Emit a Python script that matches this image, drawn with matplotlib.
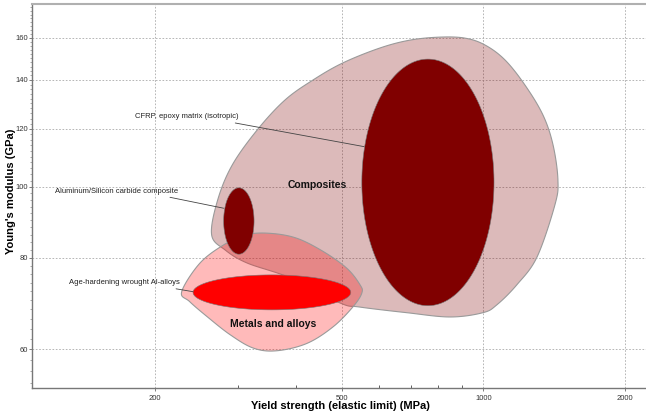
import numpy as np
import matplotlib
matplotlib.use("Agg")
import matplotlib.pyplot as plt
from matplotlib.ticker import FixedLocator, NullFormatter

plt.rcParams['font.family'] = ['Liberation Sans', 'DejaVu Sans']

# =========================
# DATA  (yield strength in MPa, Young's modulus in GPa)
# =========================
# family envelopes, outline points going clockwise from the left
composites_x = [264, 272, 292, 330, 378, 434, 502, 602, 698, 808, 913, 1007, 1111,
                1225, 1338, 1406, 1440, 1419, 1300, 1178, 1068, 997, 849, 687, 546,
                495, 388, 314, 282]
composites_y = [86.0, 96.0, 107.1, 119.6, 131.4, 140.0, 147.7, 154.8, 158.7, 160.2,
                159.7, 156.3, 149.1, 137.8, 125.4, 114.1, 102.2, 94.5, 80.2, 73.5,
                69.0, 67.3, 66.4, 67.3, 68.5, 69.4, 75.1, 78.7, 82.0]

metals_x = [228, 249, 280, 313, 351, 400, 456, 512, 546, 551, 528, 479, 421, 363,
            324, 289, 258, 237]
metals_y = [71.9, 78.6, 83.3, 86.0, 86.4, 85.1, 81.6, 77.4, 73.5, 71.6, 68.6, 64.4,
            61.1, 59.7, 60.2, 62.8, 66.5, 69.7]

# individual materials: property ranges
materials = ["CFRP, epoxy matrix (isotropic)",
             "Aluminum/Silicon carbide composite",
             "Age-hardening wrought Al-alloys"]
strength_lo = [551, 280, 241]
strength_hi = [1053, 325, 522]
modulus_lo = [68.8, 80.9, 67.9]
modulus_hi = [149.5, 99.7, 75.8]

x_ticks = [200, 500, 1000, 2000]
y_ticks = [60, 80, 100, 120, 140, 160]

# =========================
# STYLE
# =========================
bubble_colors = ["#800000", "#800000", "#ff0000"]
label_pos = [(234, 124.7), (166, 98.7), (172, 74.0)]
leader_end = [(557, 113.5), (280, 93.5), (241, 71.9)]


def smooth_closed(xs, ys, steps=20):
    # closed Catmull-Rom curve through the outline, worked in log space
    p = np.column_stack([np.log10(xs), np.log10(ys)])
    n = len(p)
    t = np.linspace(0, 1, steps, endpoint=False)[:, None]
    out = []
    for i in range(n):
        p0, p1, p2, p3 = p[i - 1], p[i], p[(i + 1) % n], p[(i + 2) % n]
        seg = 0.5 * (2 * p1 + (-p0 + p2) * t
                     + (2 * p0 - 5 * p1 + 4 * p2 - p3) * t ** 2
                     + (-p0 + 3 * p1 - 3 * p2 + p3) * t ** 3)
        out.append(seg)
    out = np.vstack(out)
    return 10 ** out[:, 0], 10 ** out[:, 1]


def log_ellipse(x0, x1, y0, y1, n=200):
    # ellipse spanning the given ranges on log axes
    lx = np.log10([x0, x1])
    ly = np.log10([y0, y1])
    t = np.linspace(0, 2 * np.pi, n)
    ex = lx.mean() + (lx[1] - lx[0]) / 2 * np.cos(t)
    ey = ly.mean() + (ly[1] - ly[0]) / 2 * np.sin(t)
    return 10 ** ex, 10 ** ey


fig = plt.figure(figsize=(6.46, 4.19), dpi=100)
ax = fig.add_axes([32 / 646, 31 / 419, 614 / 646, 384 / 419])
ax.set_xscale("log")
ax.set_yscale("log")
ax.set_xlim(109.5, 2217)
ax.set_ylim(53.1, 177.8)

# envelopes
cx, cy = smooth_closed(composites_x, composites_y)
ax.fill(cx, cy, facecolor=(0.5, 0, 0, 0.27), edgecolor="#9a9a9a", lw=0.8, zorder=2)
mx, my = smooth_closed(metals_x, metals_y)
ax.fill(mx, my, facecolor=(1, 0, 0, 0.27), edgecolor="#9a9a9a", lw=0.8, zorder=3)

# material bubbles + labels
for i, name in enumerate(materials):
    ex, ey = log_ellipse(strength_lo[i], strength_hi[i], modulus_lo[i], modulus_hi[i])
    ax.fill(ex, ey, facecolor=bubble_colors[i], edgecolor="#777777", lw=0.4, zorder=4)
    ax.annotate(name, xy=leader_end[i], xytext=label_pos[i], fontsize=5.5,
                color="#222222", ha="center", va="center", zorder=5,
                arrowprops=dict(arrowstyle="-", color="#444444", lw=0.6,
                                shrinkA=0, shrinkB=0, relpos=(0.82, 0.0)))

ax.text(442, 100.6, "Composites", fontsize=7.5, fontweight="bold", color="#111111",
        ha="center", va="center", zorder=5)
ax.text(357, 65.0, "Metals and alloys", fontsize=7.5, fontweight="bold",
        color="#111111", ha="center", va="center", zorder=5)

# axes, ticks, grid
ax.xaxis.set_major_locator(FixedLocator(x_ticks))
ax.xaxis.set_minor_locator(FixedLocator([300, 400, 600, 700, 800, 900]))
ax.yaxis.set_major_locator(FixedLocator(y_ticks))
ax.yaxis.set_minor_locator(FixedLocator(np.arange(54, 178, 2)))
ax.xaxis.set_minor_formatter(NullFormatter())
ax.yaxis.set_minor_formatter(NullFormatter())
ax.set_xticklabels([str(v) for v in x_ticks])
ax.set_yticklabels([str(v) for v in y_ticks])

ax.tick_params(axis="both", which="major", labelsize=5.5, labelcolor="#333333",
               color="#666666", length=2, width=0.6)
ax.tick_params(axis="x", which="major", pad=3)
ax.tick_params(axis="y", which="major", pad=0.8)
ax.tick_params(axis="x", which="minor", direction="in", length=2, width=0.6,
               color="#444444")
ax.tick_params(axis="y", which="minor", direction="out", length=1.5, width=0.5,
               color="#888888")

ax.grid(True, which="major", color="#aaaaaa", lw=0.6, linestyle=(0, (2, 2)), zorder=1)
ax.set_axisbelow(True)

for side in ["left", "bottom"]:
    ax.spines[side].set_color("#777777")
    ax.spines[side].set_linewidth(1.0)
ax.spines["top"].set_color("#b0b0b0")
ax.spines["top"].set_linewidth(1.5)
ax.spines["right"].set_visible(False)

ax.set_xlabel("Yield strength (elastic limit) (MPa)", fontsize=8, fontweight="bold",
              va="center")
ax.set_ylabel("Young's modulus (GPa)", fontsize=8, fontweight="bold", va="center")
ax.xaxis.set_label_coords(0.502, -0.048)
ax.yaxis.set_label_coords(-0.034, 0.513)

fig.savefig("out.png", dpi=100)
